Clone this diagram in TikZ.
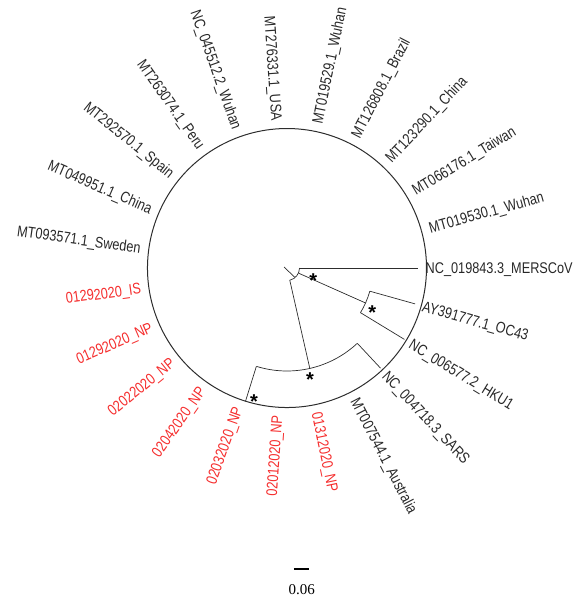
\documentclass[tikz,border=0pt]{standalone}
\usepackage{graphicx}
\usepackage{fontspec}
\setmainfont{Liberation Serif}
\newfontfamily\labfont{Liberation Sans}
\newcommand{\cndtxt}[1]{\scalebox{0.82}[1]{#1}}
\definecolor{redlab}{RGB}{245,45,45}
\definecolor{treeline}{RGB}{45,45,45}
\definecolor{labgray}{RGB}{40,40,40}
\begin{document}
\begin{tikzpicture}[x=1pt,y=1pt,
  branch/.style={draw=treeline,line width=0.7pt},
  bigarc/.style={draw=treeline,line width=1pt},
  leaflab/.style={font=\labfont\fontsize{15.5}{17}\selectfont,inner sep=0pt,
    text height=11pt,text depth=0pt,text=labgray},
  redleaf/.style={leaflab,text=redlab},
  starmark/.style={font=\labfont\bfseries\fontsize{20}{20}\selectfont,inner sep=0pt,anchor=base},
  scalelab/.style={font=\fontsize{15}{16}\selectfont,inner sep=0pt}]
\useasboundingbox (-287,268) rectangle (294,-335);
% ---- internal node coordinates (polar about the root centre)
\coordinate (stubin) at (-3,1);
\coordinate (rootstub) at (-50:12);
\coordinate (rootL) at (-77.2:12.5);
\coordinate (rootR) at (0:12.5);
\coordinate (Bstart) at (-24:12.5);
\coordinate (nB) at (-24:86);
\coordinate (nBa) at (-15.65:86);
\coordinate (nBb) at (-31.3:86);
\coordinate (nC) at (-77.2:103);
\coordinate (nCa) at (-46.96:103);
\coordinate (nCb) at (-107.3:103);
\coordinate (nD) at (-107.3:139.5);
\coordinate (nDa) at (-62.61:139.5);
% ---- tips
\coordinate (mers) at (0:131);
\coordinate (oc43) at (-15.65:133);
\coordinate (hku1) at (-31.3:137.5);
\coordinate (sars) at (-46.96:137);
% ---- branches
\draw[branch] (stubin) -- (rootstub);
\draw[branch] (rootL) arc[start angle=-77.2,end angle=0,radius=12.5];
\draw[branch] (rootR) -- (mers);
\draw[branch] (Bstart) -- (nB);
\draw[branch] (nBb) arc[start angle=-31.3,end angle=-15.65,radius=86];
\draw[branch] (nBa) -- (oc43);
\draw[branch] (nBb) -- (hku1);
\draw[branch] (rootL) -- (nC);
\draw[branch] (nCb) arc[start angle=-107.3,end angle=-46.96,radius=103];
\draw[branch] (nCa) -- (sars);
\draw[branch] (nCb) -- (nD);
\draw[bigarc] (nDa) arc[start angle=-62.61,end angle=15.65,radius=139.5];
\draw[bigarc] (nDa) arc[start angle=-62.61,end angle=-344.35,radius=139.5];
% ---- outgroup labels
\node[leaflab,anchor=west,rotate=0] (lmers) at (0:138.5) {\cndtxt{NC\_019843.3\_MERSCoV}};
\node[leaflab,anchor=west,rotate=-15.65] (loc43) at (-15.65:141) {\cndtxt{AY391777.1\_OC43}};
\node[leaflab,anchor=west,rotate=-31.3] (lhku1) at (-31.3:144.5) {\cndtxt{NC\_006577.2\_HKU1}};
\node[leaflab,anchor=west,rotate=-46.96] (lsars) at (-46.96:144) {\cndtxt{NC\_004718.3\_SARS}};
% ---- SARS-CoV-2 clade labels
\foreach \i/\txt/\sty in {
  4/MT007544.1\_Australia/leaflab,
  5/01312020\_NP/redleaf,
  6/02012020\_NP/redleaf,
  7/02032020\_NP/redleaf,
  8/02042020\_NP/redleaf,
  9/02022020\_NP/redleaf,
  10/01292020\_NP/redleaf,
  11/01292020\_IS/redleaf,
  12/MT093571.1\_Sweden/leaflab,
  13/MT049951.1\_China/leaflab,
  14/MT292570.1\_Spain/leaflab,
  15/MT263074.1\_Peru/leaflab,
  16/NC\_045512.2\_Wuhan/leaflab,
  17/MT276331.1\_USA/leaflab,
  18/MT019529.1\_Wuhan/leaflab,
  19/MT126808.1\_Brazil/leaflab,
  20/MT123290.1\_China/leaflab,
  21/MT066176.1\_Taiwan/leaflab,
  22/MT019530.1\_Wuhan/leaflab}{
  \pgfmathsetmacro{\ang}{-15.6522*\i}
  \pgfmathsetmacro{\cs}{cos(\ang)}
  \pgfmathparse{\cs<0 ? 1 : 0}
  \ifnum\pgfmathresult=1
    \pgfmathsetmacro{\rot}{\ang+180}
    \node[\sty,anchor=east,rotate=\rot] (leaf\i) at (\ang:147.5) {\cndtxt{\txt}};
  \else
    \node[\sty,anchor=west,rotate=\ang] (leaf\i) at (\ang:147.5) {\cndtxt{\txt}};
  \fi
}
% ---- support marks (glyph centre about 0.58em above the baseline)
\node[starmark] (s1) at (26.3,-19.3) {*};
\node[starmark] (s2) at (85.3,-51.9) {*};
\node[starmark] (s3) at (23,-118.6) {*};
\node[starmark] (s4) at (-33,-140.3) {*};
% ---- scale bar
\coordinate (sbL) at (7,-301);
\coordinate (sbR) at (22,-301);
\draw[line width=1.6pt,black] (sbL) -- (sbR);
\node[scalelab] (sbtxt) at (14.7,-322) {0.06};
\end{tikzpicture}
\end{document}
